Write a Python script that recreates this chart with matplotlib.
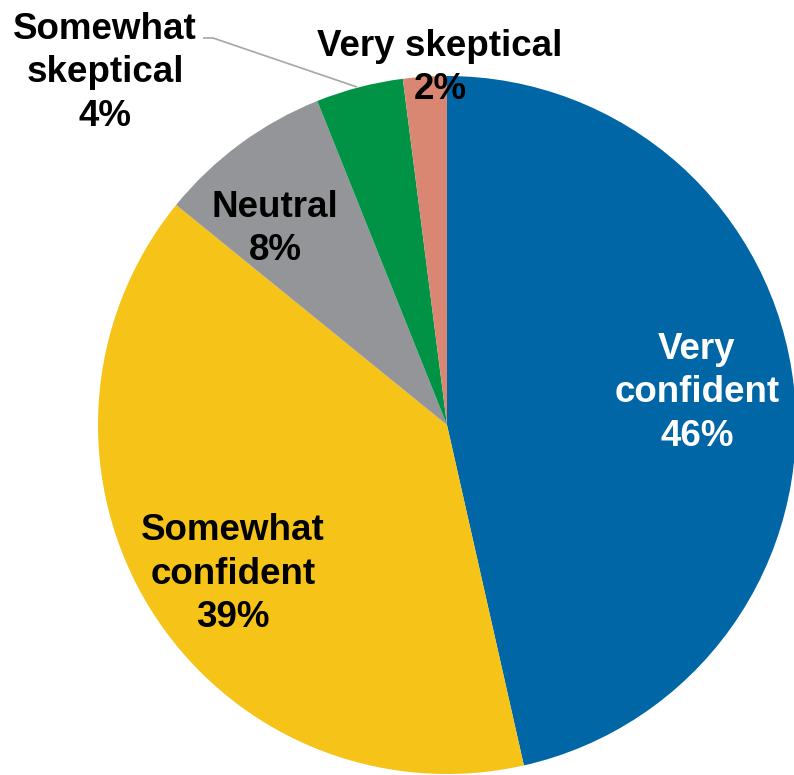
import matplotlib
matplotlib.use('Agg')
import matplotlib.pyplot as plt

# Survey shares, clockwise from 12 o'clock
categories = ["Very confident", "Somewhat confident", "Neutral",
              "Somewhat skeptical", "Very skeptical"]
shares = [46, 39, 8, 4, 2]
colors = ["#0066A6", "#F6C318", "#939598", "#009245", "#D98672"]

W, H = 794, 775
fig = plt.figure(figsize=(W / 100, H / 100), dpi=100)
ax = fig.add_axes([0, 0, 1, 1])

# pie in pixel-like coords (y measured upward)
cx, cy, r = 447, H - 425, 349
ax.pie(shares, colors=colors, startangle=90, counterclock=False,
       center=(cx, cy), radius=r, frame=True,
       wedgeprops=dict(linewidth=0))
ax.set_xlim(0, W)
ax.set_ylim(0, H)
ax.set_aspect('equal')
ax.axis('off')

font = dict(family='Liberation Sans', fontweight='bold', fontsize=26.5,
            ha='center', va='center', linespacing=1.3)

# label anchors (x, y from top)
label_pos = [(697, 393), (233, 574), (275, 229), (105, 73), (440, 68)]
label_text = ["Very\nconfident", "Somewhat\nconfident", "Neutral",
              "Somewhat\nskeptical", "Very skeptical"]
label_color = ["white", "black", "black", "black", "black"]

for (x, y), txt, share, col in zip(label_pos, label_text, shares, label_color):
    ax.text(x, H - y, f"{txt}\n{share}%", color=col, **font)

# leader line for the small green slice
ax.plot([203, 213, 357], [H - 38, H - 38, H - 87], color="#A6A6A6",
        linewidth=1.2, solid_capstyle='butt')

fig.savefig("out.png", dpi=100)
plt.close(fig)
